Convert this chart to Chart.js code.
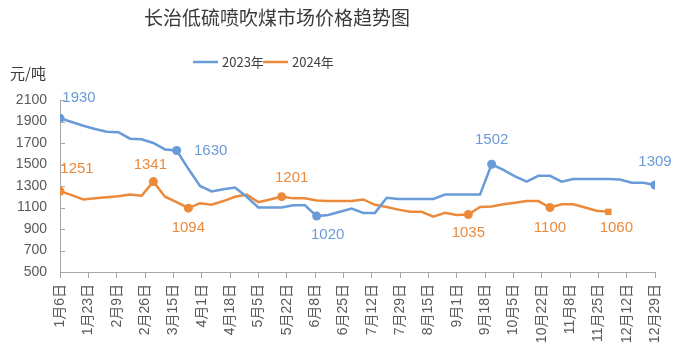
<!DOCTYPE html>
<html>
<head>
<meta charset="utf-8">
<script src="https://cdn.jsdelivr.net/npm/chart.js@4"></script>
<style>
html,body{margin:0;padding:0;background:#fff;}
canvas{display:block;}
</style>
</head>
<body>
<canvas id="c" width="682" height="356"></canvas>
<script>
// ---- data ----
const chartTitle = '长治低硫喷吹煤市场价格趋势图';
const unitLabel = '元/吨';
const seriesNames = ['2023年', '2024年'];
const xTickLabels = ['1月6日','1月23日','2月9日','2月26日','3月15日','4月1日','4月18日','5月5日','5月22日','6月8日','6月25日','7月12日','7月29日','8月15日','9月1日','9月18日','10月5日','10月22日','11月8日','11月25日','12月12日','12月29日'];
const yTicks = [500, 700, 900, 1100, 1300, 1500, 1700, 1900, 2100];
// weekly prices (one value per week starting 1月6日)
const prices2023 = [1930,1895,1860,1830,1805,1800,1740,1735,1700,1640,1630,1460,1300,1250,1270,1285,1200,1100,1100,1100,1120,1120,1020,1030,1060,1090,1050,1050,1190,1180,1180,1180,1180,1220,1220,1220,1220,1502,1450,1390,1340,1395,1395,1340,1365,1365,1365,1365,1360,1330,1330,1309];
const prices2024 = [1251,1215,1175,1185,1195,1205,1220,1210,1341,1200,1150,1094,1140,1125,1160,1200,1220,1150,1175,1201,1185,1185,1165,1160,1160,1160,1175,1125,1105,1080,1060,1060,1015,1050,1030,1035,1105,1110,1130,1145,1160,1160,1100,1130,1130,1100,1070,1060];
// labelled points (indices into the series)
const labelled2023 = [0, 10, 22, 37, 51];
const labelled2024 = [0, 8, 11, 19, 35, 42, 47];

// ---- style ----
const BLUE = '#6a9bd9';
const ORANGE = '#ec8a3c';
const AXIS = '#a6a6a6';
const TXT = '#595959';
const FONT = "'Liberation Sans', 'Noto Sans CJK SC', sans-serif";
const CJK = "'Noto Sans CJK SC', sans-serif";
const labelOffsets = [
  {0:[19,-20], 10:[34,0], 22:[11,19], 37:[0,-24], 51:[0,-23]},
  {0:[17,-22], 8:[-3,-17], 11:[0,20], 19:[10,-19], 35:[0,18], 42:[0,20], 47:[8,16]}
];
const marked = [labelled2023, labelled2024];

const toPts = arr => arr.map((v, i) => ({x: i * 7, y: v}));

const decorPlugin = {
  id: 'decor',
  afterDatasetsDraw(chart) {
    const ctx = chart.ctx;
    const ys = chart.scales.y;
    const ca = chart.chartArea;
    ctx.save();
    // inside ticks on y axis
    ctx.strokeStyle = AXIS;
    ctx.lineWidth = 1;
    yTicks.forEach(v => {
      const py = Math.round(ys.getPixelForValue(v)) + 0.5;
      ctx.beginPath();
      ctx.moveTo(ca.left, py);
      ctx.lineTo(ca.left + 5, py);
      ctx.stroke();
    });
    // data labels
    ctx.font = '15px ' + FONT;
    ctx.textAlign = 'center';
    ctx.textBaseline = 'middle';
    chart.data.datasets.forEach((ds, di) => {
      const meta = chart.getDatasetMeta(di);
      ctx.fillStyle = ds.borderColor;
      marked[di].forEach(idx => {
        const el = meta.data[idx];
        const off = labelOffsets[di][idx];
        ctx.fillText(String(ds.data[idx].y), el.x + off[0], el.y + off[1]);
      });
    });
    // title
    ctx.fillStyle = '#3a3a3a';
    ctx.font = '19px ' + CJK;
    ctx.fillText(chartTitle, 277, 18);
    // unit
    ctx.fillStyle = '#3a3a3a';
    ctx.font = '15px ' + CJK;
    ctx.textAlign = 'left';
    ctx.fillText(unitLabel, 10, 73);
    // legend
    const items = [[193, BLUE, seriesNames[0]], [263, ORANGE, seriesNames[1]]];
    ctx.font = '13px ' + CJK;
    items.forEach(([x, col, name]) => {
      ctx.strokeStyle = col;
      ctx.lineWidth = 2.5;
      ctx.beginPath();
      ctx.moveTo(x, 62);
      ctx.lineTo(x + 25, 62);
      ctx.stroke();
      ctx.fillStyle = '#404040';
      ctx.fillText(name, x + 29, 62);
    });
    ctx.restore();
  }
};

new Chart(document.getElementById('c'), {
  type: 'line',
  data: {
    datasets: [
      {
        label: seriesNames[0],
        data: toPts(prices2023),
        borderColor: BLUE,
        backgroundColor: BLUE,
        borderWidth: 2.5,
        tension: 0,
        pointRadius: c => labelled2023.includes(c.dataIndex) ? 4.5 : 0,
        pointHoverRadius: 0,
        pointBorderWidth: 0
      },
      {
        label: seriesNames[1],
        data: toPts(prices2024),
        borderColor: ORANGE,
        backgroundColor: ORANGE,
        borderWidth: 2.5,
        tension: 0,
        pointStyle: c => c.dataIndex === prices2024.length - 1 ? 'rect' : 'circle',
        pointRadius: c => labelled2024.includes(c.dataIndex) ? 4.5 : 0,
        pointHoverRadius: 0,
        pointBorderWidth: 0
      }
    ]
  },
  options: {
    responsive: false,
    animation: false,
    events: [],
    layout: {padding: {top: 100, right: 27, left: 0, bottom: 0}},
    plugins: {legend: {display: false}, title: {display: false}, tooltip: {enabled: false}},
    scales: {
      x: {
        type: 'linear',
        min: 0,
        max: 357,
        afterFit: s => { s.height = 84; },
        afterBuildTicks: s => { s.ticks = xTickLabels.map((t, i) => ({value: i * 17})); },
        grid: {display: true, drawOnChartArea: false, drawTicks: true, tickLength: 6, color: AXIS, tickColor: AXIS},
        border: {color: AXIS, width: 1},
        ticks: {
          autoSkip: false,
          minRotation: 90,
          maxRotation: 90,
          padding: 6,
          color: TXT,
          font: {size: 14, family: FONT},
          callback: (v, i) => xTickLabels[i]
        }
      },
      y: {
        min: 500,
        max: 2100,
        afterFit: s => { s.width = 60; },
        afterBuildTicks: s => { s.ticks = yTicks.map(v => ({value: v})); },
        grid: {display: false, drawTicks: false},
        border: {color: AXIS, width: 1},
        ticks: {
          padding: 13,
          color: TXT,
          font: {size: 14, family: FONT},
          callback: v => String(v)
        }
      }
    }
  },
  plugins: [decorPlugin]
});
</script>
</body>
</html>
